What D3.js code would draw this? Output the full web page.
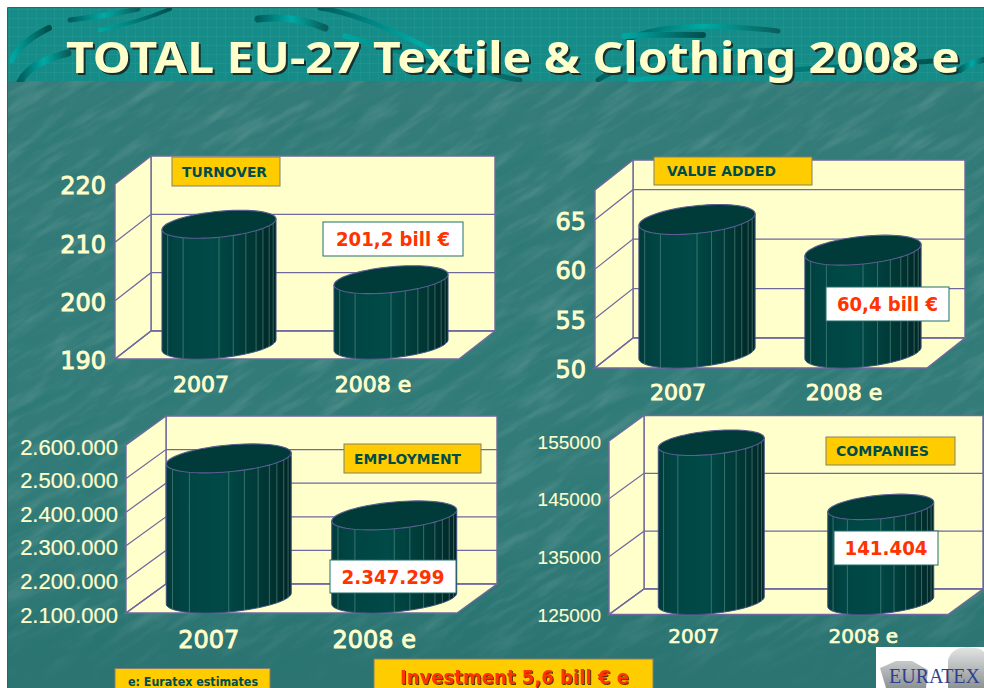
<!DOCTYPE html>
<html>
<head>
<meta charset="utf-8">
<script src="https://cdn.jsdelivr.net/npm/d3@7"></script>
<style>
  html, body { margin: 0; padding: 0; background: #fff; }
  svg { display: block; }
  text { font-family: "DejaVu Sans", sans-serif; }
</style>
</head>
<body>
<svg id="chart" width="984" height="688"></svg>
<script>
// Values
const categories = ["2007", "2008 e"];
const turnover = [210.7, 201.2];
const valueAdded = [63.5, 60.4];
const employment = [2517000, 2347299];
const companies = [152500, 141404];

const turnoverTicks = [190, 200, 210, 220];
const valueAddedTicks = [50, 55, 60, 65];
const employmentTicks = [2100000, 2200000, 2300000, 2400000, 2500000, 2600000];
const companiesTicks = [125000, 135000, 145000, 155000];

const dotted = d => d3.format(",")(d).replace(/,/g, ".");

// Layout of the four 3D panels: front wall edges, depth, label and callout boxes
const panels = [
  { id: "turnover", values: turnover, ticks: turnoverTicks, domain: [190, 220], format: d3.format("d"),
    x0: 115, x1: 459, yBottom: 359, yTop: 184, dx: 36, dy: 28, inner: 0.337,
    tickFont: "DejaVu Sans", tickSize: 24, tickBold: 0.9, tickGap: 9, tickShift: 2,
    catSize: 22, catBold: 0.9, catGap: 25,
    tag: { text: "TURNOVER", x: 172, y: 157, w: 108, h: 29, tx: 182, tl: 85 },
    note: { text: "201,2 bill €", x: 323, y: 222, w: 140, h: 34, tl: 114, size: 20 } },
  { id: "value-added", values: valueAdded, ticks: valueAddedTicks, domain: [50, 68], format: d3.format("d"),
    x0: 595, x1: 927, yBottom: 368, yTop: 190, dx: 38, dy: 30, inner: 0.3,
    tickFont: "DejaVu Sans", tickSize: 24, tickBold: 0.9, tickGap: 9, tickShift: 2,
    catSize: 22, catBold: 0.9, catGap: 24,
    tag: { text: "VALUE ADDED", x: 654, y: 157, w: 158, h: 28, tx: 667, tl: 109 },
    note: { text: "60,4 bill €", x: 826, y: 287, w: 123, h: 34, tl: 101, size: 20 } },
  { id: "employment", values: employment, ticks: employmentTicks, domain: [2100000, 2600000], format: dotted,
    x0: 126, x1: 457, yBottom: 613, yTop: 445, dx: 40, dy: 29, inner: 0.245,
    tickFont: "Liberation Sans", tickSize: 22, tickBold: 0.2, tickGap: 8, tickShift: 2,
    catSize: 24, catBold: 0.9, catGap: 26,
    tag: { text: "EMPLOYMENT", x: 344, y: 444, w: 137, h: 29, tx: 354, tl: 107 },
    note: { text: "2.347.299", x: 330, y: 560, w: 126, h: 33, tl: 103, size: 20 } },
  { id: "companies", values: companies, ticks: companiesTicks, domain: [125000, 155000], format: d3.format("d"),
    x0: 609, x1: 948, yBottom: 614.5, yTop: 441, dx: 35, dy: 25.5, inner: 0.375,
    tickFont: "Liberation Sans", tickSize: 19, tickBold: 0.1, tickGap: 8, tickShift: 1,
    catSize: 20, catBold: 0.7, catGap: 22,
    tag: { text: "COMPANIES", x: 826, y: 437, w: 129, h: 28, tx: 836, tl: 93 },
    note: { text: "141.404", x: 834, y: 531, w: 104, h: 34, tl: 83, size: 20 } }
];

// Where the facet edges of the cylinders fall, as fractions of the half width
const facetStops = [-0.9, -0.63, 0, 0.25, 0.47, 0.65, 0.77, 0.88, 0.95];

const cream = "#ffffcc";
const wallLine = "#6f699f";
const svg = d3.select("#chart");
const defs = svg.append("defs");

const gradient = (id, stops, attrs) => {
  const g = defs.append("linearGradient").attr("id", id);
  Object.entries(attrs || {}).forEach(([k, v]) => g.attr(k, v));
  stops.forEach(([o, c, a]) => g.append("stop").attr("offset", o).attr("stop-color", c)
    .attr("stop-opacity", a === undefined ? 1 : a));
};

gradient("cylinder", [[0, "#003b3a"], [0.12, "#004543"], [0.45, "#004a47"], [0.8, "#003634"], [1, "#002626"]]);
gradient("swirl", [[0, "#005f5e"], [0.5, "#00aaa5"], [1, "#0a5f5c"]]);
gradient("swirlDark", [[0, "#00a8a3"], [1, "#004f4d"]]);
gradient("bodyShade", [[0, "#347c79"], [0.75, "#327b78"], [1, "#2a7371"]], { x2: 0, y2: 1 });
gradient("footFade", [[0, "#2b7472", 0], [1, "#2b7472", 1]], { x2: 0, y2: 1 });
gradient("shirt", [[0, "#e4e6e6"], [1, "#8d9292"]], { x2: 0, y2: 1 });

// Streaky mottling for the slide background
const streaks = (id, freq, seed, matrix) => {
  const f = defs.append("filter").attr("id", id)
    .attr("x", 0).attr("y", 0).attr("width", 1).attr("height", 1);
  f.append("feTurbulence").attr("type", "fractalNoise")
    .attr("baseFrequency", freq).attr("numOctaves", 5).attr("seed", seed);
  f.append("feColorMatrix").attr("type", "matrix").attr("values", matrix);
};
streaks("lightStreaks", "0.018 0.09", 7, "0 0 0 0 1  0 0 0 0 1  0 0 0 0 1  2.2 0 0 0 -1.0");
streaks("darkStreaks", "0.014 0.07", 21, "0 0 0 0 0  0 0 0 0 0.15  0 0 0 0 0.15  0 2.2 0 0 -1.05");

defs.append("clipPath").attr("id", "bodyClip")
  .append("rect").attr("x", 8).attr("y", 80).attr("width", 976).attr("height", 608);
defs.append("clipPath").attr("id", "headClip")
  .append("rect").attr("x", 8).attr("y", 8).attr("width", 976).attr("height", 74);

const grid = defs.append("pattern").attr("id", "headGrid")
  .attr("width", 9).attr("height", 9).attr("patternUnits", "userSpaceOnUse");
grid.append("path").attr("d", "M9 0H0V9").attr("fill", "none")
  .attr("stroke", "#3fa9a5").attr("stroke-opacity", 0.5).attr("stroke-width", 0.7);

// Slide background
const bg = svg.append("g");
bg.append("rect").attr("x", 8).attr("y", 8).attr("width", 976).attr("height", 680).attr("fill", "url(#bodyShade)");
const mottled = bg.append("g").attr("clip-path", "url(#bodyClip)")
  .append("g").attr("transform", "rotate(-32 500 380)");
mottled.append("rect").attr("x", -250).attr("y", -250).attr("width", 1500).attr("height", 1300)
  .attr("filter", "url(#lightStreaks)").attr("opacity", 0.13);
mottled.append("rect").attr("x", -250).attr("y", -250).attr("width", 1500).attr("height", 1300)
  .attr("filter", "url(#darkStreaks)").attr("opacity", 0.13);
bg.append("rect").attr("x", 8).attr("y", 610).attr("width", 976).attr("height", 78).attr("fill", "url(#footFade)");

// Title band with its brush strokes
const head = bg.append("g").attr("clip-path", "url(#headClip)");
head.append("rect").attr("x", 8).attr("y", 8).attr("width", 976).attr("height", 73).attr("fill", "#168c88");
head.append("rect").attr("x", 8).attr("y", 8).attr("width", 976).attr("height", 73).attr("fill", "url(#headGrid)");
const swirls = [
  ["M12 60 Q20 42 49 28", 6, "swirlDark"],
  ["M70 20 Q105 16 138 9", 5, "swirl"],
  ["M20 82 Q30 62 68 53", 7, "swirl"],
  ["M100 30 Q140 22 170 9", 4, "swirlDark"],
  ["M258 19 Q295 15 325 28", 7, "swirl"],
  ["M320 8 Q360 14 420 44 T520 80", 5, "swirl"],
  ["M345 36 Q400 50 470 76", 5, "swirlDark"],
  ["M628 40 Q665 18 778 31", 5, "swirl"],
  ["M625 36 Q660 34 703 35", 6, "swirlDark"],
  ["M598 80 Q640 52 790 50", 5, "swirl"],
  ["M630 80 Q760 72 950 60", 5, "swirlDark"],
  ["M960 70 Q972 62 984 60", 6, "swirl"]
];
head.selectAll("path.swirl")
  .data(swirls)
  .join("path")
    .attr("class", "swirl")
    .attr("d", d => d[0])
    .attr("fill", "none")
    .attr("stroke-linecap", "round")
    .attr("stroke-width", d => d[1])
    .attr("stroke", d => `url(#${d[2]})`);

// Slide border on top and left
bg.append("path").attr("d", "M7.5 688V7.5H984").attr("fill", "none").attr("stroke", "#555").attr("stroke-width", 1);

svg.append("text")
  .attr("x", 66).attr("y", 73)
  .style("font-family", "'Noto Sans', sans-serif")
  .attr("font-size", 43).attr("font-weight", 700)
  .attr("textLength", 894).attr("lengthAdjust", "spacingAndGlyphs")
  .attr("fill", cream)
  .style("filter", "drop-shadow(2px 2px 0 #17302f)")
  .text("TOTAL EU-27 Textile & Clothing 2008 e");

const ellipsePoints = (cx, cy, a, b, s) => d3.range(0, 2 * Math.PI, Math.PI / 36)
  .map(t => [cx + a * Math.cos(t), cy - s * a * Math.cos(t) + b * Math.sin(t)]);

const line = d3.line();

const drawPanel = p => {
  const g = svg.append("g").attr("class", `panel panel-${p.id}`);
  const y = d3.scaleLinear().domain(p.domain).range([p.yBottom, p.yTop]);
  const x = d3.scaleBand().domain(categories).range([p.x0, p.x1])
    .paddingInner(p.inner).paddingOuter(p.inner / 2);

  // Walls and floor
  const wall = pts => g.append("path").attr("d", line(pts) + "Z")
    .attr("fill", cream).attr("stroke", wallLine).attr("stroke-width", 1.4).attr("stroke-linejoin", "round");
  const backTop = p.yTop - p.dy;
  const backBottom = p.yBottom - p.dy;
  wall([[p.x0 + p.dx, backTop], [p.x1 + p.dx, backTop], [p.x1 + p.dx, backBottom], [p.x0 + p.dx, backBottom]]);
  wall([[p.x0, p.yTop], [p.x0 + p.dx, backTop], [p.x0 + p.dx, backBottom], [p.x0, p.yBottom]]);
  wall([[p.x0, p.yBottom], [p.x0 + p.dx, backBottom], [p.x1 + p.dx, backBottom], [p.x1, p.yBottom]]);

  // Gridlines, running along the side wall then across the back wall
  g.selectAll("path.grid")
    .data(p.ticks.filter(t => t !== p.domain[1]))
    .join("path")
      .attr("class", "grid")
      .attr("d", d => line([[p.x0, y(d)], [p.x0 + p.dx, y(d) - p.dy], [p.x1 + p.dx, y(d) - p.dy]]))
      .attr("fill", "none")
      .attr("stroke", wallLine)
      .attr("stroke-width", 1.2);

  // Axes
  const yAxis = g.append("g")
    .attr("transform", `translate(${p.x0},0)`)
    .call(d3.axisLeft(y).tickValues(p.ticks).tickFormat(p.format).tickSize(2).tickPadding(p.tickGap - 2));
  const xAxis = g.append("g")
    .attr("transform", `translate(0,${p.yBottom})`)
    .call(d3.axisBottom(x).tickSize(0).tickPadding(p.catGap - 8));
  yAxis.select(".domain").remove();
  xAxis.select(".domain").remove();
  yAxis.selectAll("line").attr("stroke", wallLine);
  yAxis.selectAll("text")
    .style("font-family", `'${p.tickFont}', sans-serif`)
    .attr("font-size", p.tickSize)
    .attr("transform", `translate(0,${p.tickShift})`)
    .attr("fill", cream).attr("stroke", cream).attr("stroke-width", p.tickBold);
  xAxis.selectAll("text")
    .attr("font-size", p.catSize)
    .attr("fill", cream).attr("stroke", cream).attr("stroke-width", p.catBold);

  // Cylinders
  const half = x.bandwidth() / 2;
  const rise = p.dy / 2;
  const s = 0.38 * rise / half;
  const b = Math.sqrt(rise * rise - (s * half) * (s * half));
  const baseY = y(p.domain[0]) - rise;
  const lower = (cx, cy, f) => cy - s * half * f + b * Math.sqrt(1 - f * f);

  const bars = g.selectAll("g.bar")
    .data(p.values.map((v, i) => ({ category: categories[i], value: v })))
    .join("g")
      .attr("class", "bar");

  bars.each(function(d) {
    const bar = d3.select(this);
    const cx = x(d.category) + half + p.dx / 2;
    const topY = y(d.value) - rise;
    const bottomArc = ellipsePoints(cx, baseY, half, b, s).filter(q => q[1] >= baseY - s * (q[0] - cx));
    bar.append("path")
      .attr("d", line([[cx - half, topY + s * half], [cx + half, topY - s * half], [cx + half, baseY - s * half],
        ...bottomArc, [cx - half, baseY + s * half]]) + "Z")
      .attr("fill", "url(#cylinder)")
      .attr("stroke", "#3f4f80")
      .attr("stroke-width", 1);
    bar.selectAll("line")
      .data(facetStops)
      .join("line")
        .attr("x1", f => cx + half * f)
        .attr("x2", f => cx + half * f)
        .attr("y1", f => lower(cx, topY, f))
        .attr("y2", f => lower(cx, baseY, f))
        .attr("stroke", "#7fb0a8")
        .attr("stroke-opacity", 0.55)
        .attr("stroke-width", 0.8);
    bar.append("path")
      .attr("d", line(ellipsePoints(cx, topY, half, b, s)) + "Z")
      .attr("fill", "#003a39")
      .attr("stroke", "#5a5f94")
      .attr("stroke-width", 1.1);
  });

  // Panel name tag
  g.append("rect")
    .attr("x", p.tag.x).attr("y", p.tag.y).attr("width", p.tag.w).attr("height", p.tag.h)
    .attr("fill", "#ffcc00").attr("stroke", "#85806a").attr("stroke-width", 1);
  g.append("text")
    .attr("x", p.tag.tx).attr("y", p.tag.y + p.tag.h / 2 + 5)
    .attr("font-size", 14).attr("font-weight", 700)
    .attr("textLength", p.tag.tl).attr("lengthAdjust", "spacingAndGlyphs")
    .attr("fill", "#004d4d")
    .text(p.tag.text);

  // Value callout
  g.append("rect")
    .attr("x", p.note.x).attr("y", p.note.y).attr("width", p.note.w).attr("height", p.note.h)
    .attr("fill", "#ffffff").attr("stroke", "#1f6f6c").attr("stroke-width", 1);
  g.append("text")
    .attr("x", p.note.x + p.note.w / 2 - p.note.tl / 2).attr("y", p.note.y + p.note.h / 2 + 7)
    .attr("font-size", p.note.size).attr("font-weight", 700)
    .attr("textLength", p.note.tl).attr("lengthAdjust", "spacingAndGlyphs")
    .attr("fill", "#ff3300")
    .text(p.note.text);
};

panels.forEach(drawPanel);

// Footer boxes
svg.append("rect").attr("x", 115).attr("y", 668.5).attr("width", 155).attr("height", 24)
  .attr("fill", "#ffcc00").attr("stroke", "#85806a");
svg.append("text").attr("x", 128).attr("y", 686)
  .attr("font-size", 12).attr("font-weight", 700)
  .attr("textLength", 130).attr("lengthAdjust", "spacingAndGlyphs")
  .attr("fill", "#004d4d")
  .text("e: Euratex estimates");

svg.append("rect").attr("x", 374).attr("y", 659).attr("width", 279).attr("height", 34)
  .attr("fill", "#ffcc00").attr("stroke", "#85806a");
svg.append("text").attr("x", 400).attr("y", 684)
  .attr("font-size", 19).attr("font-weight", 700)
  .attr("textLength", 229).attr("lengthAdjust", "spacingAndGlyphs")
  .attr("fill", "#ff3300")
  .style("filter", "drop-shadow(1px 1px 0 #5a3a00)")
  .text("Investment 5,6 bill € e");

// Logo block
const logo = svg.append("g");
logo.append("rect").attr("x", 876).attr("y", 647).attr("width", 108).attr("height", 41).attr("fill", "#ffffff");
logo.append("path")
  .attr("d", "M880 668 L896 661 L912 661 L928 670 L926 688 L886 688 Z M948 660 Q952 647 968 647 Q982 648 984 652 V688 H948 Z")
  .attr("fill", "url(#shirt)");
logo.append("text").attr("x", 889).attr("y", 683)
  .style("font-family", "'Liberation Serif', serif")
  .attr("font-size", 20)
  .attr("textLength", 91).attr("lengthAdjust", "spacingAndGlyphs")
  .attr("fill", "#2f3f92")
  .text("EURATEX");
</script>
</body>
</html>
